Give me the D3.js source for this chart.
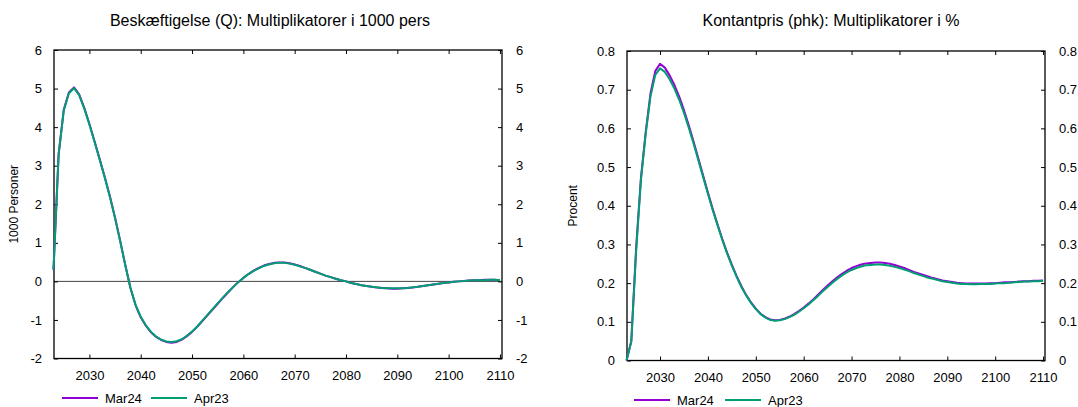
<!DOCTYPE html>
<html><head><meta charset="utf-8">
<script src="https://cdn.jsdelivr.net/npm/d3@7"></script>
<style>
body{margin:0;background:#fff;}
text{font-family:"Liberation Sans",Arial,Helvetica,sans-serif;fill:#000;}
</style></head>
<body><svg id="c" width="1078" height="407"></svg>
<script>
// ---------- DATA ----------
const years = d3.range(2023, 2111);
const seriesNames = ["Mar24", "Apr23"];
const xTicks = [2030, 2040, 2050, 2060, 2070, 2080, 2090, 2100, 2110];
const leftYTicks = [-2, -1, 0, 1, 2, 3, 4, 5, 6];
const rightYTicks = [0, 0.1, 0.2, 0.3, 0.4, 0.5, 0.6, 0.7, 0.8];

const empMar24 = [0.3,3.3,4.45,4.9,5.03,4.85,4.5,4.08,3.63,3.17,2.7,2.2,1.65,1.05,0.42,-0.17,-0.62,-0.93,-1.15,-1.32,
  -1.44,-1.52,-1.57,-1.59,-1.57,-1.51,-1.42,-1.31,-1.18,-1.03,-0.88,-0.73,-0.58,-0.43,-0.29,-0.15,-0.02,0.09,0.19,0.28,
  0.35,0.41,0.45,0.48,0.49,0.49,0.47,0.44,0.40,0.35,0.30,0.25,0.20,0.15,0.11,0.07,0.03,0.00,-0.04,-0.07,
  -0.10,-0.12,-0.14,-0.16,-0.17,-0.18,-0.19,-0.19,-0.18,-0.17,-0.16,-0.14,-0.12,-0.10,-0.08,-0.06,-0.04,-0.03,-0.01,0.00,
  0.01,0.02,0.03,0.03,0.04,0.04,0.04,0.03];
const empApr23 = [0.3,3.28,4.43,4.88,5.01,4.83,4.48,4.07,3.62,3.16,2.69,2.19,1.64,1.04,0.41,-0.17,-0.61,-0.92,-1.14,-1.31,
  -1.43,-1.51,-1.56,-1.57,-1.55,-1.50,-1.41,-1.30,-1.17,-1.02,-0.87,-0.72,-0.57,-0.42,-0.28,-0.15,-0.02,0.09,0.19,0.27,
  0.34,0.40,0.44,0.47,0.48,0.48,0.46,0.43,0.39,0.35,0.30,0.25,0.20,0.15,0.11,0.07,0.03,0.00,-0.04,-0.07,
  -0.10,-0.12,-0.14,-0.15,-0.17,-0.18,-0.18,-0.18,-0.18,-0.17,-0.15,-0.14,-0.12,-0.10,-0.08,-0.06,-0.04,-0.03,-0.01,0.00,
  0.01,0.02,0.03,0.03,0.03,0.04,0.04,0.03];

const priceMar24 = [0.0,0.05,0.29,0.47,0.59,0.69,0.748,0.767,0.757,0.737,0.712,0.682,0.647,0.608,0.566,0.522,0.478,0.434,0.392,0.352,
  0.314,0.279,0.247,0.218,0.192,0.169,0.150,0.134,0.121,0.112,0.106,0.104,0.105,0.108,0.113,0.120,0.128,0.137,0.147,0.158,
  0.170,0.182,0.194,0.205,0.215,0.224,0.232,0.239,0.244,0.248,0.251,0.252,0.253,0.253,0.252,0.250,0.247,0.243,0.239,0.234,
  0.229,0.225,0.221,0.217,0.213,0.210,0.207,0.205,0.203,0.201,0.200,0.199,0.199,0.199,0.199,0.199,0.200,0.200,0.201,0.202,
  0.202,0.203,0.204,0.205,0.205,0.206,0.206,0.207];
const priceApr23 = [0.0,0.05,0.28,0.465,0.585,0.682,0.738,0.755,0.746,0.727,0.703,0.674,0.640,0.602,0.561,0.518,0.474,0.431,0.389,0.350,
  0.312,0.277,0.245,0.216,0.190,0.168,0.149,0.133,0.120,0.111,0.105,0.103,0.104,0.107,0.112,0.118,0.126,0.135,0.145,0.156,
  0.167,0.179,0.190,0.201,0.211,0.220,0.228,0.234,0.239,0.243,0.246,0.247,0.248,0.248,0.247,0.245,0.242,0.239,0.235,0.231,
  0.226,0.222,0.218,0.214,0.211,0.208,0.205,0.203,0.201,0.199,0.198,0.198,0.197,0.197,0.198,0.198,0.198,0.199,0.200,0.200,
  0.201,0.202,0.203,0.204,0.204,0.205,0.205,0.206];

const colors = ["#9400d3", "#009e73"];

// ---------- DRAW ----------
const svg = d3.select("#c");

function panel(cfg) {
  const g = svg.append("g");
  const x = d3.scaleLinear().domain([2023.1, 2110.4]).range([cfg.x0, cfg.x1]);
  const y = d3.scaleLinear().domain(cfg.ydom).range([cfg.y1, cfg.y0]);
  const tl = 4;

  g.append("text").attr("x", cfg.tx).attr("y", 26).attr("text-anchor", "middle")
    .style("font-size", "16px").text(cfg.title);

  if (cfg.zero) {
    g.append("line").attr("x1", cfg.x0).attr("x2", cfg.x1).attr("y1", y(0)).attr("y2", y(0))
      .attr("stroke", "#444").attr("stroke-width", 1);
  }

  const fmt = cfg.fmt;
  const bottom = d3.axisBottom(x).tickValues(xTicks).tickSizeInner(-tl).tickSizeOuter(0).tickPadding(12).tickFormat(d => String(d));
  const top = d3.axisTop(x).tickValues(xTicks).tickSizeInner(-tl).tickSizeOuter(0).tickFormat("");
  const left = d3.axisLeft(y).tickValues(cfg.yticks).tickSizeInner(-tl).tickSizeOuter(0).tickPadding(12).tickFormat(fmt);
  const right = d3.axisRight(y).tickValues(cfg.yticks).tickSizeInner(-tl).tickSizeOuter(0).tickPadding(14).tickFormat(fmt);

  [[bottom, `translate(0,${cfg.y1})`], [top, `translate(0,${cfg.y0})`],
   [left, `translate(${cfg.x0},0)`], [right, `translate(${cfg.x1},0)`]].forEach(([ax, tr]) => {
    const a = g.append("g").attr("transform", tr).call(ax);
    a.select(".domain").remove();
    a.selectAll("line").attr("stroke", "#000");
    a.selectAll("text").style("font-size", "13px").style("font-family", '"Liberation Sans",Arial,sans-serif');
  });

  g.append("rect").attr("x", cfg.x0).attr("y", cfg.y0).attr("width", cfg.x1 - cfg.x0).attr("height", cfg.y1 - cfg.y0)
    .attr("fill", "none").attr("stroke", "#000").attr("stroke-width", 1.3);

  g.append("text").attr("transform", `translate(${cfg.lx},${(cfg.y0 + cfg.y1) / 2}) rotate(-90)`)
    .attr("text-anchor", "middle").style("font-size", "12px").text(cfg.ylabel);

  const line = d3.line().x((d, i) => x(years[i])).y(d => y(d));
  cfg.data.forEach((s, k) => {
    g.append("path").datum(s).attr("d", line).attr("fill", "none")
      .attr("stroke", colors[k]).attr("stroke-width", 2).attr("stroke-linejoin", "round");
  });

  const lg = g.append("g");
  cfg.legend.forEach((lx, k) => {
    lg.append("line").attr("x1", lx).attr("x2", lx + 36).attr("y1", cfg.legY).attr("y2", cfg.legY)
      .attr("stroke", colors[k]).attr("stroke-width", 2);
    lg.append("text").attr("x", lx + 43).attr("y", cfg.legY + 5).style("font-size", "13px").text(seriesNames[k]);
  });
}

panel({
  x0: 54, x1: 502, y0: 50, y1: 358.5, ydom: [-2, 6], yticks: leftYTicks, fmt: d => String(d),
  title: "Beskæftigelse (Q): Multiplikatorer i 1000 pers", tx: 270,
  ylabel: "1000 Personer", lx: 18, zero: true,
  data: [empMar24, empApr23], legend: [62, 151], legY: 398
});
panel({
  x0: 627, x1: 1045, y0: 51, y1: 360.5, ydom: [0, 0.8], yticks: rightYTicks, fmt: d => d === 0 ? "0" : d.toFixed(1),
  title: "Kontantpris (phk): Multiplikatorer i %", tx: 831,
  ylabel: "Procent", lx: 577, zero: false,
  data: [priceMar24, priceApr23], legend: [634, 725], legY: 400
});
</script></body></html>
